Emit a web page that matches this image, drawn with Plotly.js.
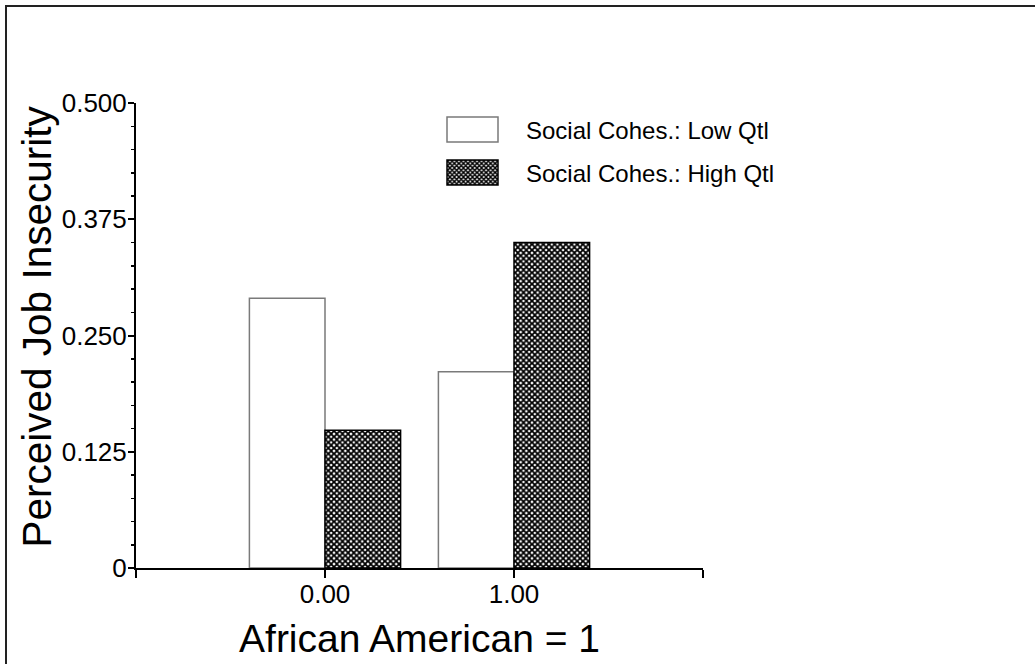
<!DOCTYPE html>
<html><head><meta charset="utf-8">
<script src="https://cdn.plot.ly/plotly-3.0.1.min.js"></script>
<style>html,body{margin:0;padding:0;background:#fff;overflow:hidden;} #chart{width:1035px;height:664px;}</style>
</head><body><div id="chart"></div>
<script>
const categories = [0, 1];
const xTickVals = [-1, 0, 1, 2];
const xTickText = ["", "0.00", "1.00", ""];
const seriesNames = ["Social Cohes.: Low Qtl", "Social Cohes.: High Qtl"];
const lowQtl = [0.290, 0.211];
const highQtl = [0.148, 0.350];
const yTickVals = [0, 0.125, 0.25, 0.375, 0.5];
const yTickText = ["0", "0.125", "0.250", "0.375", "0.500"];
const xTitle = "African American = 1";
const yTitle = "Perceived Job Insecurity";

const FONT = "Liberation Sans, Arial, Helvetica, sans-serif";

const data = [
  {type: 'bar', x: categories, y: lowQtl, name: seriesNames[0],
   marker: {color: '#ffffff', line: {color: '#7a7a7a', width: 1.5}}},
  {type: 'bar', x: categories, y: highQtl, name: seriesNames[1],
   marker: {color: '#ffffff', line: {color: '#000000', width: 1.5},
            pattern: {shape: 'x', size: 4, solidity: 0.7, fgcolor: '#000000', bgcolor: '#ffffff'}}}
];

const L = 136, R = 332, T = 103, B = 96;
const W = 1035 - L - R, H = 664 - T - B;

const layout = {
  width: 1035, height: 664,
  margin: {l: L, r: R, t: T, b: B, pad: 0},
  paper_bgcolor: '#ffffff', plot_bgcolor: '#ffffff',
  font: {family: FONT, color: '#000000'},
  barmode: 'group', bargap: 0.2, bargroupgap: 0,
  showlegend: true,
  legend: {x: 0.55, y: 1.0, xanchor: 'left', yanchor: 'top', font: {size: 24, family: FONT},
           bgcolor: 'rgba(0,0,0,0)', borderwidth: 0},
  xaxis: {range: [-1, 2], tickmode: 'array', tickvals: xTickVals, ticktext: xTickText,
          ticks: 'outside', ticklen: 8, tickwidth: 2, tickcolor: '#000', ticklabelstandoff: -6,
          showline: true, linewidth: 2, linecolor: '#000', showgrid: false, zeroline: false,
          tickfont: {size: 26, family: FONT},
          title: {text: xTitle, font: {size: 39, family: FONT}, standoff: 16}},
  yaxis: {range: [0, 0.5], tickmode: 'array', tickvals: yTickVals, ticktext: yTickText,
          ticks: 'outside', ticklen: 6, tickwidth: 2, tickcolor: '#000', ticklabelstandoff: -4,
          showline: true, linewidth: 2, linecolor: '#000', showgrid: false, zeroline: false,
          minor: {tickmode: 'linear', tick0: 0, dtick: 0.025, ticks: 'outside', ticklen: 3, tickwidth: 1.5, tickcolor: '#000', showgrid: false},
          tickfont: {size: 26, family: FONT}},
  annotations: [{text: yTitle, xref: 'paper', yref: 'paper',
                 x: (36 - L) / W, y: (T + H - 326.5) / H, xanchor: 'center', yanchor: 'middle',
                 textangle: -90, showarrow: false, font: {size: 40.5, family: FONT, color: '#000'}}],
  shapes: [{type: 'rect', xref: 'paper', yref: 'paper',
            x0: (6 - L) / W, x1: (1045 - L) / W,
            y0: (T + H - 675) / H, y1: (T + H - 6) / H,
            line: {color: '#222222', width: 2}, fillcolor: 'rgba(0,0,0,0)', layer: 'above'}]
};

Plotly.newPlot('chart', data, layout, {staticPlot: true, displayModeBar: false}).then(function (gd) {
  try {
    gd.querySelectorAll('.legend [clip-path]').forEach(function (el) { el.removeAttribute('clip-path'); });
    const items = gd.querySelectorAll('.legend .traces');
    items.forEach(function (g, i) {
      const p = g.querySelector('.legendpoints path');
      const t = g.querySelector('text.legendtext');
      if (!p || !t) return;
      const bb = p.getBBox();
      const cx = bb.x + bb.width / 2, cy = bb.y + bb.height / 2;
      p.setAttribute('d', 'M' + (cx - 25.5) + ',' + (cy - 12.5) + 'H' + (cx + 25.5) + 'V' + (cy + 12.5) + 'H' + (cx - 25.5) + 'Z');
      const pr = p.getBoundingClientRect();
      const dx = 447 - pr.left, dy = (117 + 43 * i) - pr.top;
      const tr = g.getAttribute('transform') || '';
      const m = tr.match(/translate\(\s*([-\d.e]+)[ ,]+([-\d.e]+)\s*\)/);
      let tx = 0, ty = 0;
      if (m) { tx = +m[1]; ty = +m[2]; }
      g.setAttribute('transform', 'translate(' + (tx + dx) + ',' + (ty + dy) + ')');
      const r2 = t.getBoundingClientRect();
      t.setAttribute('x', (parseFloat(t.getAttribute('x')) || 0) + (526 - r2.left));
    });
  } catch (e) { console.log(e); }
});
</script>
</body></html>
